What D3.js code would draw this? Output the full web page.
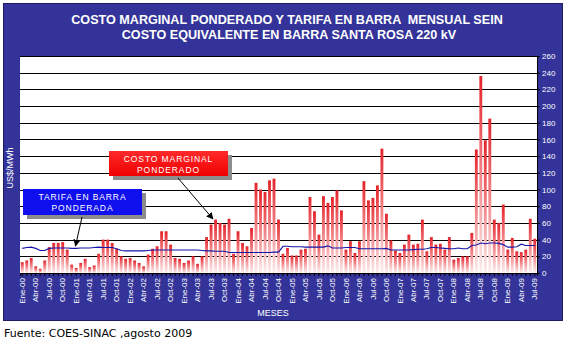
<!DOCTYPE html>
<html>
<head>
<meta charset="utf-8">
<script src="https://cdn.jsdelivr.net/npm/d3@7"></script>
<style>
  body { margin: 0; background: #ffffff; }
  svg { display: block; font-family: "Liberation Sans", Arial, sans-serif; }
</style>
</head>
<body>
<svg id="chart" width="567" height="343"></svg>
<script>
// ---- data ----------------------------------------------------------------
const monthNames = ["Ene","Feb","Mar","Abr","May","Jun","Jul","Ago","Sep","Oct","Nov","Dic"];
const yearCodes  = ["00","01","02","03","04","05","06","07","08","09"];
const lastYearMonths = 7; // series ends in Jul-09

// Costo marginal ponderado (US$/MWh), Ene-00 .. Jul-09
const costoMarginal = [
  13, 15, 18,  8,  5, 15, 31, 36, 36, 37, 28, 10,   // 2000
   6, 12, 17,  7,  9, 23, 40, 40, 36, 29, 20, 17,   // 2001
  18, 15, 12,  8, 22, 29, 32, 50, 50, 34, 18, 17,   // 2002
  12, 15, 20, 11, 20, 43, 58, 64, 60, 58, 65, 23,   // 2003
  50, 36, 32, 54,108,100, 97,111,113, 64, 23, 30,   // 2004
  21, 21, 28, 29, 91, 74, 46, 92, 84, 91, 99, 75,   // 2005
  28, 38, 24, 38,110, 87, 90,105,149, 71, 39, 27,   // 2006
  24, 34, 46, 34, 35, 64, 26, 43, 34, 35, 28, 43,   // 2007
  16, 18, 20, 20, 48,148,236,159,185, 64, 60, 82,   // 2008
  28, 42, 26, 25, 28, 65, 41                        // 2009
];

// Tarifa en barra ponderada (US$/MWh), Ene-00 .. Jul-09
const tarifaBarra = [
  29.5, 30.5, 31, 29.5, 27, 27, 29.5, 30, 30, 30, 30, 29.5,
  29.5, 30, 30, 30, 30.5, 31, 30.5, 30.5, 30.5, 29, 27, 26.5,
  26.5, 26.5, 26.5, 26.5, 27, 27.5, 27.5, 27.5, 27.5, 27.5, 27.5, 27.5,
  27.5, 27.5, 27.5, 27.5, 27, 26.5, 26.5, 26, 26, 26, 24.5, 24.5,
  24.5, 24.5, 24.5, 24.5, 24.5, 24.5, 24.5, 24.5, 25, 25, 32, 32,
  31.5, 31.5, 31.5, 31, 31, 31, 31, 31, 32.5, 30, 30, 30,
  30.5, 30.5, 30.5, 29, 29, 29, 29, 29, 29, 29.5, 27.5, 27.5,
  27.5, 27.5, 27.5, 28, 28.5, 28.5, 29, 30.5, 30.5, 30, 29.5, 29,
  29, 30, 29, 29, 33, 33.5, 36, 35, 36, 36, 35.5, 34,
  31, 31, 31.5, 34.5, 33, 33, 33
];

const yTickValues = [0, 20, 40, 60, 80, 100, 120, 140, 160, 180, 200, 220, 240, 260];

const xTickLabels = [
  "Ene-00","Abr-00","Jul-00","Oct-00","Ene-01","Abr-01","Jul-01","Oct-01",
  "Ene-02","Abr-02","Jul-02","Oct-02","Ene-03","Abr-03","Jul-03","Oct-03",
  "Ene-04","Abr-04","Jul-04","Oct-04","Ene-05","Abr-05","Jul-05","Oct-05",
  "Ene-06","Abr-06","Jul-06","Oct-06","Ene-07","Abr-07","Jul-07","Oct-07",
  "Ene-08","Abr-08","Jul-08","Oct-08","Ene-09","Abr-09","Jul-09"
];

// month categories "Ene-00" ... "Jul-09"
const months = [];
yearCodes.forEach((yy, k) => {
  const n = k === yearCodes.length - 1 ? lastYearMonths : 12;
  for (let m = 0; m < n; m++) months.push(monthNames[m] + "-" + yy);
});

// ---- layout ------------------------------------------------------------------
const svg = d3.select("#chart");
const plot = { left: 20, right: 537, top: 56, bottom: 273 };

const x = d3.scaleBand().domain(months).range([plot.left, plot.right]).paddingInner(0.36).paddingOuter(0.18);
const y = d3.scaleLinear().domain([0, 260]).range([plot.bottom, plot.top]);

const defs = svg.append("defs");
const barGrad = defs.append("linearGradient")
  .attr("id", "barGrad").attr("x1", 0).attr("y1", 0).attr("x2", 0).attr("y2", 1);
barGrad.append("stop").attr("offset", "0%").attr("stop-color", "#e4232a");
barGrad.append("stop").attr("offset", "45%").attr("stop-color", "#f07a7e");
barGrad.append("stop").attr("offset", "100%").attr("stop-color", "#fdeeee");

const redGrad = defs.append("linearGradient")
  .attr("id", "redBox").attr("x1", 0).attr("y1", 0).attr("x2", 0).attr("y2", 1);
redGrad.append("stop").attr("offset", "0%").attr("stop-color", "#ff2a2a");
redGrad.append("stop").attr("offset", "100%").attr("stop-color", "#f00000");

const arrow = defs.append("marker")
  .attr("id", "arrowHead").attr("viewBox", "0 0 10 10")
  .attr("refX", 9).attr("refY", 5)
  .attr("markerWidth", 7).attr("markerHeight", 7)
  .attr("orient", "auto-start-reverse");
arrow.append("path").attr("d", "M0,0 L10,5 L0,10 Z").attr("fill", "#000");

// outer panel
svg.append("rect")
  .attr("x", 3.5).attr("y", 3.5).attr("width", 559).attr("height", 317)
  .attr("fill", "#333399").attr("stroke", "#1c1c5e").attr("stroke-width", 1);

// title
const title = svg.append("g").attr("fill", "#ffffff")
  .attr("font-size", 12.6).attr("font-weight", "bold").attr("text-anchor", "middle");
title.append("text").attr("x", 287).attr("y", 23.5)
  .attr("xml:space", "preserve")
  .text("COSTO MARGINAL PONDERADO Y TARIFA EN BARRA  MENSUAL SEIN");
title.append("text").attr("x", 289).attr("y", 38.5)
  .text("COSTO EQUIVALENTE EN BARRA SANTA ROSA 220 kV");

// plot area
svg.append("rect")
  .attr("x", plot.left).attr("y", plot.top)
  .attr("width", plot.right - plot.left).attr("height", plot.bottom - plot.top)
  .attr("fill", "#ffffff");

// horizontal grid
svg.append("g").selectAll("line")
  .data(yTickValues.filter(v => v > 0))
  .join("line")
  .attr("x1", plot.left).attr("x2", plot.right)
  .attr("y1", d => Math.round(y(d)) + 0.5).attr("y2", d => Math.round(y(d)) + 0.5)
  .attr("stroke", "#000").attr("stroke-width", 1);

// bars: costo marginal
svg.append("g").selectAll("rect")
  .data(costoMarginal)
  .join("rect")
  .attr("x", (d, i) => x(months[i]))
  .attr("width", x.bandwidth())
  .attr("y", d => y(d))
  .attr("height", d => y(0) - y(d))
  .attr("fill", "url(#barGrad)");

// line: tarifa en barra
svg.append("path")
  .datum(tarifaBarra)
  .attr("fill", "none")
  .attr("stroke", "#1515a8")
  .attr("stroke-width", 1.1)
  .attr("d", d3.line()
    .x((d, i) => x(months[i]) + x.bandwidth() / 2)
    .y(d => y(d)));

// bottom axis line and monthly ticks
const xTicksG = svg.append("g")
  .attr("transform", `translate(0,${plot.bottom})`)
  .call(d3.axisBottom(x).tickSize(3).tickFormat(""));
xTicksG.select(".domain").attr("stroke", "#000");
xTicksG.selectAll(".tick line").attr("stroke", "#000");

// quarterly labels
const xLabG = svg.append("g")
  .attr("transform", `translate(0,${plot.bottom})`)
  .attr("font-family", "'Liberation Sans', Arial, sans-serif")
  .call(d3.axisBottom(x).tickValues(xTickLabels).tickSize(0));
xLabG.select(".domain").remove();
xLabG.selectAll("text")
  .attr("x", -5).attr("y", 0).attr("dy", "0.33em")
  .attr("transform", "rotate(-90)")
  .attr("text-anchor", "end")
  .attr("fill", "#ffffff")
  .attr("font-size", 8);

// right value axis
const yAxisG = svg.append("g")
  .attr("transform", `translate(${plot.right},0)`)
  .attr("font-family", "'Liberation Sans', Arial, sans-serif")
  .call(d3.axisRight(y).tickValues(yTickValues).tickSize(3).tickPadding(2));
yAxisG.select(".domain").attr("stroke", "#000");
yAxisG.selectAll(".tick line").attr("stroke", "#000");
yAxisG.selectAll("text")
  .attr("fill", "#ffffff").attr("font-size", 8);

// axis titles
svg.append("text")
  .attr("transform", "translate(13,168) rotate(-90)")
  .attr("text-anchor", "middle").attr("fill", "#ffffff").attr("font-size", 9)
  .text("US$/MWh");
svg.append("text")
  .attr("x", 273).attr("y", 316)
  .attr("text-anchor", "middle").attr("fill", "#ffffff").attr("font-size", 9)
  .text("MESES");

// callout: costo marginal
const redBox = { x: 109, y: 151, w: 119, h: 25 };
svg.append("rect")
  .attr("x", redBox.x + 4).attr("y", redBox.y + 4).attr("width", redBox.w).attr("height", redBox.h)
  .attr("fill", "#8c8c8c");
svg.append("rect")
  .attr("x", redBox.x).attr("y", redBox.y).attr("width", redBox.w).attr("height", redBox.h)
  .attr("fill", "url(#redBox)");
const redText = svg.append("g").attr("fill", "#ffffff").attr("font-size", 8.5)
  .attr("text-anchor", "middle").attr("letter-spacing", 0.9);
redText.append("text").attr("x", redBox.x + redBox.w / 2).attr("y", redBox.y + 10.5).text("COSTO MARGINAL");
redText.append("text").attr("x", redBox.x + redBox.w / 2).attr("y", redBox.y + 21.5).text("PONDERADO");
svg.append("line")
  .attr("x1", 178).attr("y1", 178).attr("x2", 213).attr("y2", 219)
  .attr("stroke", "#000").attr("stroke-width", 1)
  .attr("marker-end", "url(#arrowHead)");

// callout: tarifa en barra
const blueBox = { x: 23, y: 189, w: 119, h: 26 };
svg.append("rect")
  .attr("x", blueBox.x + 4).attr("y", blueBox.y + 4).attr("width", blueBox.w).attr("height", blueBox.h)
  .attr("fill", "#8c8c8c");
svg.append("rect")
  .attr("x", blueBox.x).attr("y", blueBox.y).attr("width", blueBox.w).attr("height", blueBox.h)
  .attr("fill", "#1010ee");
const blueText = svg.append("g").attr("fill", "#ffffff").attr("font-size", 8.5)
  .attr("text-anchor", "middle").attr("letter-spacing", 0.9);
blueText.append("text").attr("x", blueBox.x + blueBox.w / 2).attr("y", blueBox.y + 11).text("TARIFA EN BARRA");
blueText.append("text").attr("x", blueBox.x + blueBox.w / 2).attr("y", blueBox.y + 22).text("PONDERADA");
svg.append("line")
  .attr("x1", 82).attr("y1", 217).attr("x2", 75.5).attr("y2", 246)
  .attr("stroke", "#000").attr("stroke-width", 1)
  .attr("marker-end", "url(#arrowHead)");

// source note
svg.append("text")
  .attr("x", 4).attr("y", 337)
  .attr("fill", "#000000").attr("font-size", 11)
  .style("font-family", "'DejaVu Sans', Verdana, sans-serif")
  .text("Fuente: COES-SINAC ,agosto 2009");
</script>
</body>
</html>
